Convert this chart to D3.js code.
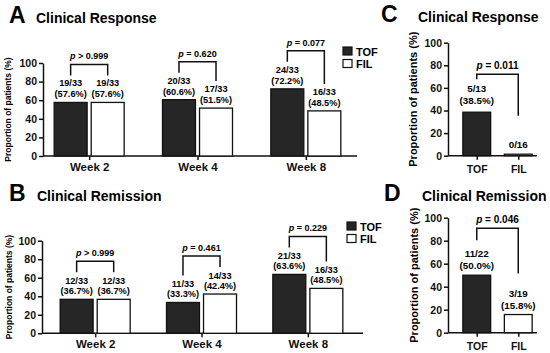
<!DOCTYPE html>
<html>
<head>
<meta charset="utf-8">
<script src="https://cdn.jsdelivr.net/npm/d3@7"></script>
<style>
  body { margin: 0; background: #fff; }
  svg { display: block; font-family: "Liberation Sans", Arial, sans-serif; font-weight: bold; }
</style>
</head>
<body>
<script>
// data
var weeks = ["Week 2", "Week 4", "Week 8"];
var groups = ["TOF", "FIL"];
var yTicks = [0, 20, 40, 60, 80, 100];

var respTOF = [57.6, 60.6, 72.2];
var respFIL = [57.6, 51.5, 48.5];
var respTOFn = ["19/33", "20/33", "24/33"];
var respFILn = ["19/33", "17/33", "16/33"];
var respP = ["p > 0.999", "p = 0.620", "p = 0.077"];

var remTOF = [36.7, 33.3, 63.6];
var remFIL = [36.7, 42.4, 48.5];
var remTOFn = ["12/33", "11/33", "21/33"];
var remFILn = ["12/33", "14/33", "16/33"];
var remP = ["p > 0.999", "p = 0.461", "p = 0.229"];

var cVals = [38.5, 0];
var cN = ["5/13", "0/16"];
var cP = "p = 0.011";

var dVals = [50.0, 15.8];
var dN = ["11/22", "3/19"];
var dP = "p = 0.046";

var dark = "#262626";

var svg = d3.select("body").append("svg")
    .attr("width", 550)
    .attr("height", 353);

// text with an italic p
function pText(sel, str) {
    sel.append("tspan").style("font-style", "italic").text(str.slice(0, 1));
    sel.append("tspan").text(str.slice(1));
}

function pct(v) { return "(" + v.toFixed(1) + "%)"; }

function header(c) {
    svg.append("text").attr("x", c.letterX).attr("y", c.titleY)
        .style("font-size", "23px").text(c.letter);
    svg.append("text").attr("x", c.titleX).attr("y", c.titleY)
        .style("font-size", "14px").text(c.title);
}

function yAxis(g, y, c) {
    var ya = g.append("g")
        .attr("transform", "translate(" + c.axisX + ",0)")
        .call(d3.axisLeft(y).tickValues(yTicks).tickSize(4).tickSizeOuter(0).tickPadding(2));
    ya.select(".domain").attr("stroke", "#111").attr("stroke-width", 1.5);
    ya.selectAll(".tick line").attr("stroke", "#111").attr("stroke-width", 1.5);
    ya.selectAll(".tick text").style("font-size", "10.5px").attr("fill", "#111")
        .style("font-family", "inherit");

    g.append("text")
        .attr("transform", "translate(" + c.ylabX + "," + ((c.yTop + c.yBot) / 2) + ") rotate(-90)")
        .attr("text-anchor", "middle")
        .style("font-size", c.ylabSize + "px")
        .text("Proportion of patients (%)");
}

function xAxis(g, x, c) {
    var xa = g.append("g")
        .attr("transform", "translate(0," + c.yBot + ")")
        .call(d3.axisBottom(x).tickSize(4).tickSizeOuter(0).tickPadding(c.xPad));
    xa.select(".domain").remove();
    xa.selectAll(".tick line").attr("stroke", "#111").attr("stroke-width", 1.5);
    xa.selectAll(".tick text").style("font-size", c.xSize + "px").attr("fill", "#111")
        .style("font-family", "inherit");
    g.append("line")
        .attr("x1", c.axisX).attr("x2", c.axisEnd)
        .attr("y1", c.yBot).attr("y2", c.yBot)
        .attr("stroke", "#111").attr("stroke-width", 1.5);
}

function barLabel(g, cx, top, n, v, c) {
    var t = g.append("text").attr("text-anchor", "middle").style("font-size", c.labSize + "px");
    if (v > 0) {
        t.append("tspan").attr("x", cx).attr("y", top - c.labGap - c.labLine).text(n);
        t.append("tspan").attr("x", cx).attr("y", top - c.labGap).text(pct(v));
    } else {
        t.append("tspan").attr("x", cx).attr("y", top - c.labGap).text(n);
    }
}

function bracket(g, xa, xb, legA, legB, rise, p, size) {
    var top = Math.min(legA, legB) - rise;
    g.append("path")
        .attr("d", "M" + xa + "," + legA + "V" + top + "H" + xb + "V" + legB)
        .attr("fill", "none").attr("stroke", "#111").attr("stroke-width", 1.5);
    g.append("text")
        .attr("x", (xa + xb) / 2).attr("y", top - 5)
        .attr("text-anchor", "middle")
        .style("font-size", size + "px")
        .call(pText, p);
}

function legend(c) {
    groups.forEach(function (gname, i) {
        svg.append("rect")
            .attr("x", c.legX).attr("y", c.legY + i * 12.5)
            .attr("width", 9).attr("height", 8)
            .attr("fill", i == 0 ? dark : "#fff")
            .attr("stroke", "#111").attr("stroke-width", 1.2);
        svg.append("text")
            .attr("x", c.legX + 13).attr("y", c.legY + 8.5 + i * 12.5)
            .style("font-size", "11px").text(gname);
    });
}

// panels A and B: grouped bars by week
function drawGrouped(c) {
    header(c);
    var g = svg.append("g");
    var y = d3.scaleLinear().domain([0, 100]).range([c.yBot, c.yTop]);
    var x0 = d3.scaleBand().domain(weeks).range(c.band);
    var x1 = d3.scaleBand().domain(groups).range([-35, 35]).paddingInner(0.11);

    yAxis(g, y, c);
    xAxis(g, d3.scalePoint().domain(weeks)
        .range([c.band[0] + x0.bandwidth() / 2, c.band[1] - x0.bandwidth() / 2]), c);

    weeks.forEach(function (w, i) {
        var mid = x0(w) + x0.bandwidth() / 2;
        var vals = [c.tof[i], c.fil[i]];
        var ns = [c.tofN[i], c.filN[i]];
        var cxs = [];
        groups.forEach(function (gname, j) {
            var bx = mid + x1(gname);
            var cx = bx + x1.bandwidth() / 2;
            cxs.push(cx);
            g.append("rect")
                .attr("x", bx).attr("y", y(vals[j]))
                .attr("width", x1.bandwidth()).attr("height", y(0) - y(vals[j]))
                .attr("fill", j == 0 ? dark : "#fff")
                .attr("stroke", "#111").attr("stroke-width", 1.3);
            barLabel(g, cx, y(vals[j]), ns[j], vals[j], c);
        });
        bracket(g, cxs[0], cxs[1], y(vals[0]) - c.legGap, y(vals[1]) - c.legGap, c.rise, c.p[i], 9);
    });
    legend(c);
}

// panels C and D: TOF vs FIL only
function drawPair(c) {
    header(c);
    var g = svg.append("g");
    var y = d3.scaleLinear().domain([0, 100]).range([c.yBot, c.yTop]);
    var x = d3.scaleBand().domain(groups).range(c.band);
    var bw = x.bandwidth() * 0.67;

    yAxis(g, y, c);
    xAxis(g, d3.scalePoint().domain(groups)
        .range([c.band[0] + x.bandwidth() / 2, c.band[1] - x.bandwidth() / 2]), c);

    var cxs = [];
    groups.forEach(function (gname, j) {
        var cx = x(gname) + x.bandwidth() / 2;
        cxs.push(cx);
        var v = c.vals[j];
        var h = Math.max(y(0) - y(v), 1.5);
        g.append("rect")
            .attr("x", cx - bw / 2).attr("y", y(0) - h)
            .attr("width", bw).attr("height", h)
            .attr("fill", j == 0 ? dark : "#fff")
            .attr("stroke", "#111").attr("stroke-width", 1.3);
        barLabel(g, cx, y(v), c.n[j], v, c);
    });
    bracket(g, cxs[0], cxs[1], y(c.vals[0]) - c.legGap[0], y(c.vals[1]) - c.legGap[1], c.rise, c.p, 10);
}

drawGrouped({
    letter: "A", title: "Clinical Response", letterX: 9, titleX: 36, titleY: 23,
    yTop: 63, yBot: 156, axisX: 43, axisEnd: 357, band: [35, 360],
    ylabX: 11, ylabSize: 8.5, xPad: 3, xSize: 11.5,
    labSize: 9.2, labGap: 5, labLine: 11, legGap: 27, rise: 11,
    tof: respTOF, fil: respFIL, tofN: respTOFn, filN: respFILn, p: respP,
    legX: 343, legY: 47
});

drawGrouped({
    letter: "B", title: "Clinical Remission", letterX: 9, titleX: 37, titleY: 201,
    yTop: 240.7, yBot: 333.3, axisX: 42, axisEnd: 363, band: [42, 361],
    ylabX: 12, ylabSize: 8.5, xPad: 3, xSize: 11.5,
    labSize: 9.2, labGap: 5, labLine: 10.5, legGap: 27, rise: 11,
    tof: remTOF, fil: remFIL, tofN: remTOFn, filN: remFILn, p: remP,
    legX: 347, legY: 222
});

drawPair({
    letter: "C", title: "Clinical Response", letterX: 381, titleX: 418, titleY: 22,
    yTop: 42.7, yBot: 155.7, axisX: 448, axisEnd: 537, band: [456, 539],
    ylabX: 417, ylabSize: 11, xPad: 6, xSize: 10.5,
    labSize: 9.8, labGap: 8, labLine: 12, legGap: [33, 40], rise: 5,
    vals: cVals, n: cN, p: cP
});

drawPair({
    letter: "D", title: "Clinical Remission", letterX: 384, titleX: 422, titleY: 201,
    yTop: 217.7, yBot: 332.7, axisX: 448, axisEnd: 537, band: [456, 539],
    ylabX: 418, ylabSize: 11, xPad: 6, xSize: 10.5,
    labSize: 9.8, labGap: 6, labLine: 12, legGap: [35, 41], rise: 12,
    vals: dVals, n: dN, p: dP
});
</script>
</body>
</html>
